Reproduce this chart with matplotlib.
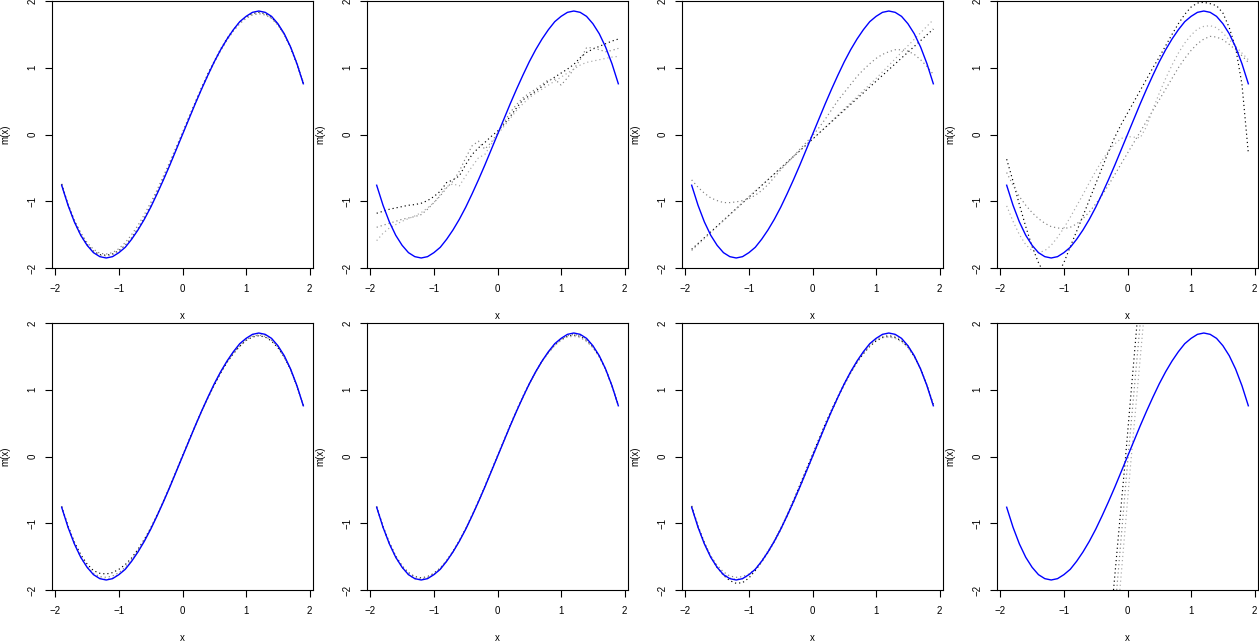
import matplotlib
matplotlib.use("Agg")
import matplotlib.pyplot as plt

plt.rcParams['font.family'] = ['Liberation Sans', 'DejaVu Sans']

# common x grid of the curves
xg = [-1.9, -1.8, -1.7, -1.6, -1.5, -1.4, -1.3, -1.2, -1.1, -1.0,
      -0.9, -0.8, -0.7, -0.6, -0.5, -0.4, -0.3, -0.2, -0.1, 0.0,
      0.1, 0.2, 0.3, 0.4, 0.5, 0.6, 0.7, 0.8, 0.9, 1.0,
      1.1, 1.2, 1.3, 1.4, 1.5, 1.6, 1.7, 1.8, 1.9]

# true regression function (blue)
m_true = [-0.76, -1.06, -1.31, -1.51, -1.66, -1.77, -1.83, -1.85, -1.83, -1.77,
          -1.69, -1.57, -1.43, -1.27, -1.09, -0.89, -0.68, -0.46, -0.23, 0.00,
          0.23, 0.46, 0.68, 0.89, 1.09, 1.27, 1.43, 1.57, 1.69, 1.77,
          1.83, 1.85, 1.83, 1.77, 1.66, 1.51, 1.31, 1.06, 0.76]

# panel 1
p1_a = [-0.74, -1.05, -1.30, -1.50, -1.65, -1.75, -1.80, -1.81, -1.79, -1.74,
        -1.66, -1.55, -1.41, -1.25, -1.07, -0.87, -0.66, -0.44, -0.21, 0.02,
        0.25, 0.48, 0.70, 0.91, 1.10, 1.28, 1.44, 1.57, 1.68, 1.76,
        1.81, 1.83, 1.81, 1.75, 1.65, 1.50, 1.30, 1.05, 0.76]
p1_b = [-0.75, -1.04, -1.28, -1.47, -1.62, -1.72, -1.78, -1.79, -1.77, -1.71,
        -1.62, -1.50, -1.36, -1.20, -1.02, -0.83, -0.62, -0.41, -0.19, 0.03,
        0.26, 0.48, 0.69, 0.89, 1.08, 1.26, 1.41, 1.55, 1.66, 1.74,
        1.79, 1.81, 1.79, 1.74, 1.64, 1.50, 1.31, 1.07, 0.78]
p1_c = [-0.76, -1.06, -1.31, -1.51, -1.66, -1.76, -1.81, -1.82, -1.80, -1.75,
        -1.67, -1.56, -1.42, -1.26, -1.08, -0.88, -0.67, -0.45, -0.22, 0.01,
        0.24, 0.46, 0.68, 0.88, 1.08, 1.26, 1.42, 1.56, 1.67, 1.75,
        1.80, 1.82, 1.80, 1.74, 1.64, 1.50, 1.31, 1.06, 0.77]

# panel 2 (wiggly)
p2_a = [-1.18, -1.15, -1.12, -1.10, -1.08, -1.06, -1.05, -1.03, -0.99, -0.93,
        -0.85, -0.72, -0.68, -0.62, -0.45, -0.30, -0.20, -0.12, -0.03, 0.05,
        0.15, 0.27, 0.40, 0.52, 0.58, 0.65, 0.72, 0.80, 0.86, 0.92,
        0.98, 1.05, 1.15, 1.23, 1.28, 1.32, 1.36, 1.40, 1.43]
p2_b = [-1.39, -1.36, -1.33, -1.30, -1.27, -1.25, -1.23, -1.20, -1.12, -1.02,
        -0.92, -0.80, -0.70, -0.55, -0.35, -0.17, -0.10, -0.22, -0.12, 0.02,
        0.18, 0.33, 0.45, 0.55, 0.62, 0.68, 0.75, 0.82, 0.83, 0.74,
        0.85, 0.98, 1.12, 1.30, 1.30, 1.27, 1.24, 1.26, 1.29]
p2_c = [-1.59, -1.48, -1.40, -1.35, -1.30, -1.26, -1.22, -1.17, -1.10, -1.02,
        -0.90, -0.78, -0.74, -0.77, -0.62, -0.48, -0.35, -0.30, -0.15, 0.00,
        0.12, 0.24, 0.36, 0.46, 0.55, 0.62, 0.68, 0.74, 0.80, 0.86,
        0.92, 0.98, 1.04, 1.08, 1.10, 1.12, 1.14, 1.16, 1.17]

# panel 3
p3_line_x = [-1.9, 1.9]
p3_line_y = [-1.72, 1.58]
p3_b = [-0.68, -0.79, -0.88, -0.95, -0.99, -1.02, -1.02, -1.01, -0.99, -0.96,
        -0.91, -0.84, -0.75, -0.64, -0.53, -0.43, -0.33, -0.22, -0.12, -0.02,
        0.10, 0.23, 0.37, 0.51, 0.63, 0.75, 0.87, 0.97, 1.06, 1.14,
        1.20, 1.24, 1.27, 1.27, 1.25, 1.20, 1.12, 1.02, 0.90]
p3_c_x = [-1.9, -1.0, 0.0, 1.0, 1.9]
p3_c_y = [-1.74, -0.93, -0.07, 0.84, 1.72]

# panel 4
p4_a = [-0.37, -0.70, -1.05, -1.38, -1.68, -1.92, -2.10, -2.18, -2.10, -1.92,
        -1.68, -1.45, -1.22, -0.98, -0.74, -0.50, -0.26, -0.04, 0.15, 0.32,
        0.49, 0.66, 0.83, 1.00, 1.16, 1.33, 1.50, 1.66, 1.80, 1.91,
        1.97, 1.98, 1.96, 1.93, 1.82, 1.60, 1.30, 0.75, -0.28]
p4_b = [-0.57, -0.76, -0.93, -1.06, -1.17, -1.26, -1.33, -1.38, -1.40, -1.41,
        -1.39, -1.34, -1.26, -1.16, -1.04, -0.91, -0.76, -0.60, -0.44, -0.28,
        -0.12, 0.04, 0.20, 0.36, 0.52, 0.68, 0.84, 1.00, 1.14, 1.26,
        1.36, 1.43, 1.47, 1.46, 1.42, 1.35, 1.27, 1.18, 1.08]
p4_c = [-1.07, -1.30, -1.50, -1.65, -1.74, -1.77, -1.74, -1.66, -1.54, -1.40,
        -1.24, -1.07, -0.90, -0.72, -0.55, -0.39, -0.25, -0.14, -0.06, -0.03,
        -0.04, -0.05, 0.12, 0.38, 0.62, 0.84, 1.04, 1.22, 1.37, 1.49,
        1.58, 1.62, 1.63, 1.60, 1.52, 1.42, 1.32, 1.22, 1.12]

# panel 5
p5_a = [-0.75, -1.04, -1.28, -1.47, -1.61, -1.71, -1.75, -1.76, -1.74, -1.69,
        -1.62, -1.52, -1.39, -1.24, -1.07, -0.88, -0.67, -0.45, -0.22, 0.01,
        0.24, 0.46, 0.68, 0.88, 1.07, 1.25, 1.41, 1.54, 1.65, 1.74,
        1.79, 1.81, 1.79, 1.73, 1.63, 1.49, 1.30, 1.05, 0.76]
p5_b = [-0.75, -1.05, -1.30, -1.50, -1.65, -1.75, -1.80, -1.81, -1.79, -1.74,
        -1.66, -1.55, -1.41, -1.26, -1.08, -0.88, -0.67, -0.45, -0.22, 0.01,
        0.23, 0.45, 0.67, 0.88, 1.08, 1.26, 1.42, 1.55, 1.66, 1.75,
        1.80, 1.82, 1.80, 1.74, 1.64, 1.49, 1.30, 1.05, 0.76]
p5_c = [-0.76, -1.06, -1.31, -1.51, -1.66, -1.76, -1.82, -1.84, -1.82, -1.76,
        -1.68, -1.56, -1.42, -1.26, -1.08, -0.88, -0.67, -0.45, -0.22, 0.00,
        0.22, 0.45, 0.67, 0.88, 1.08, 1.26, 1.42, 1.56, 1.68, 1.76,
        1.82, 1.84, 1.82, 1.76, 1.65, 1.50, 1.30, 1.05, 0.76]

# panel 6
p6_a = [-0.75, -1.05, -1.29, -1.49, -1.64, -1.74, -1.80, -1.82, -1.80, -1.75,
        -1.67, -1.56, -1.42, -1.26, -1.08, -0.88, -0.67, -0.45, -0.22, 0.01,
        0.24, 0.47, 0.69, 0.90, 1.09, 1.27, 1.43, 1.56, 1.67, 1.75,
        1.80, 1.82, 1.80, 1.74, 1.64, 1.50, 1.31, 1.06, 0.77]
p6_b = [-0.76, -1.06, -1.31, -1.51, -1.66, -1.77, -1.83, -1.84, -1.82, -1.77,
        -1.68, -1.57, -1.43, -1.27, -1.09, -0.89, -0.68, -0.46, -0.23, 0.00,
        0.23, 0.46, 0.68, 0.88, 1.08, 1.26, 1.42, 1.56, 1.67, 1.76,
        1.81, 1.83, 1.81, 1.76, 1.65, 1.50, 1.30, 1.05, 0.76]
p6_c = [-0.76, -1.05, -1.30, -1.50, -1.65, -1.75, -1.81, -1.83, -1.81, -1.76,
        -1.68, -1.56, -1.42, -1.26, -1.08, -0.88, -0.67, -0.45, -0.22, 0.01,
        0.24, 0.46, 0.68, 0.89, 1.08, 1.26, 1.42, 1.55, 1.66, 1.74,
        1.79, 1.80, 1.78, 1.72, 1.63, 1.49, 1.30, 1.06, 0.77]

# panel 7
p7_a = [-0.74, -1.04, -1.29, -1.50, -1.66, -1.78, -1.86, -1.90, -1.89, -1.82,
        -1.71, -1.58, -1.43, -1.27, -1.08, -0.88, -0.66, -0.43, -0.20, 0.03,
        0.26, 0.49, 0.70, 0.90, 1.09, 1.26, 1.41, 1.54, 1.65, 1.73,
        1.78, 1.80, 1.78, 1.73, 1.64, 1.50, 1.31, 1.07, 0.78]
p7_b = [-0.76, -1.06, -1.30, -1.49, -1.63, -1.73, -1.79, -1.81, -1.80, -1.76,
        -1.69, -1.58, -1.44, -1.28, -1.10, -0.90, -0.69, -0.47, -0.24, -0.01,
        0.22, 0.45, 0.67, 0.88, 1.07, 1.25, 1.41, 1.55, 1.66, 1.75,
        1.80, 1.82, 1.80, 1.75, 1.66, 1.51, 1.31, 1.06, 0.76]
p7_c = [-0.75, -1.05, -1.30, -1.50, -1.65, -1.76, -1.82, -1.84, -1.83, -1.78,
        -1.69, -1.56, -1.41, -1.25, -1.07, -0.87, -0.66, -0.44, -0.21, 0.02,
        0.25, 0.47, 0.69, 0.89, 1.08, 1.26, 1.42, 1.56, 1.67, 1.75,
        1.79, 1.79, 1.77, 1.72, 1.63, 1.49, 1.30, 1.06, 0.77]

# panel 8 (near vertical fits)
p8_a_x = [-0.22, -0.03, 0.15]
p8_a_y = [-2.0, 0.0, 2.0]
p8_b_x = [-0.17, 0.01, 0.20]
p8_b_y = [-2.0, 0.0, 2.0]
p8_c_x = [-0.12, 0.06, 0.25]
p8_c_y = [-2.0, 0.0, 2.0]

dot_colors = ['black', '#808080', '#a8a8a8']

panels = [
    [(xg, p1_a), (xg, p1_b), (xg, p1_c)],
    [(xg, p2_a), (xg, p2_b), (xg, p2_c)],
    [(p3_line_x, p3_line_y), (xg, p3_b), (p3_c_x, p3_c_y)],
    [(xg, p4_a), (xg, p4_b), (xg, p4_c)],
    [(xg, p5_a), (xg, p5_b), (xg, p5_c)],
    [(xg, p6_a), (xg, p6_b), (xg, p6_c)],
    [(xg, p7_a), (xg, p7_b), (xg, p7_c)],
    [(p8_a_x, p8_a_y), (p8_b_x, p8_b_y), (p8_c_x, p8_c_y)],
]

W, H = 1259, 643
fig = plt.figure(figsize=(W / 100, H / 100), dpi=100)

for k, curves in enumerate(panels):
    row, col = divmod(k, 4)
    left = 52 + 315 * col
    top = 1 + 322 * row
    ax = fig.add_axes([left / W, 1 - (top + 267) / H, 261 / W, 267 / H])
    ax.plot(xg, m_true, color='#0000ff', lw=1.0, zorder=3)
    for (cx, cy), c in zip(curves, dot_colors):
        ax.plot(cx, cy, color=c, lw=0.85, linestyle=(0, (1, 2.5)), zorder=2)
    ax.set_xlim(-2.052, 2.052)
    ax.set_ylim(-2, 2)
    ax.set_xticks([-2, -1, 0, 1, 2])
    ax.set_yticks([-2, -1, 0, 1, 2])
    ax.tick_params(direction='out', length=4.7, width=0.8, labelsize=7, colors='black')
    ax.tick_params(axis='x', pad=7)
    ax.tick_params(axis='y', pad=6)
    for lab in ax.get_yticklabels():
        lab.set_rotation(90)
        lab.set_va('center')
    for s in ax.spines.values():
        s.set_linewidth(0.8)
    ax.set_xlabel('x', fontsize=7, labelpad=12)
    ax.set_ylabel('m(x)', fontsize=7, labelpad=12)

fig.savefig('out.png', dpi=100)
